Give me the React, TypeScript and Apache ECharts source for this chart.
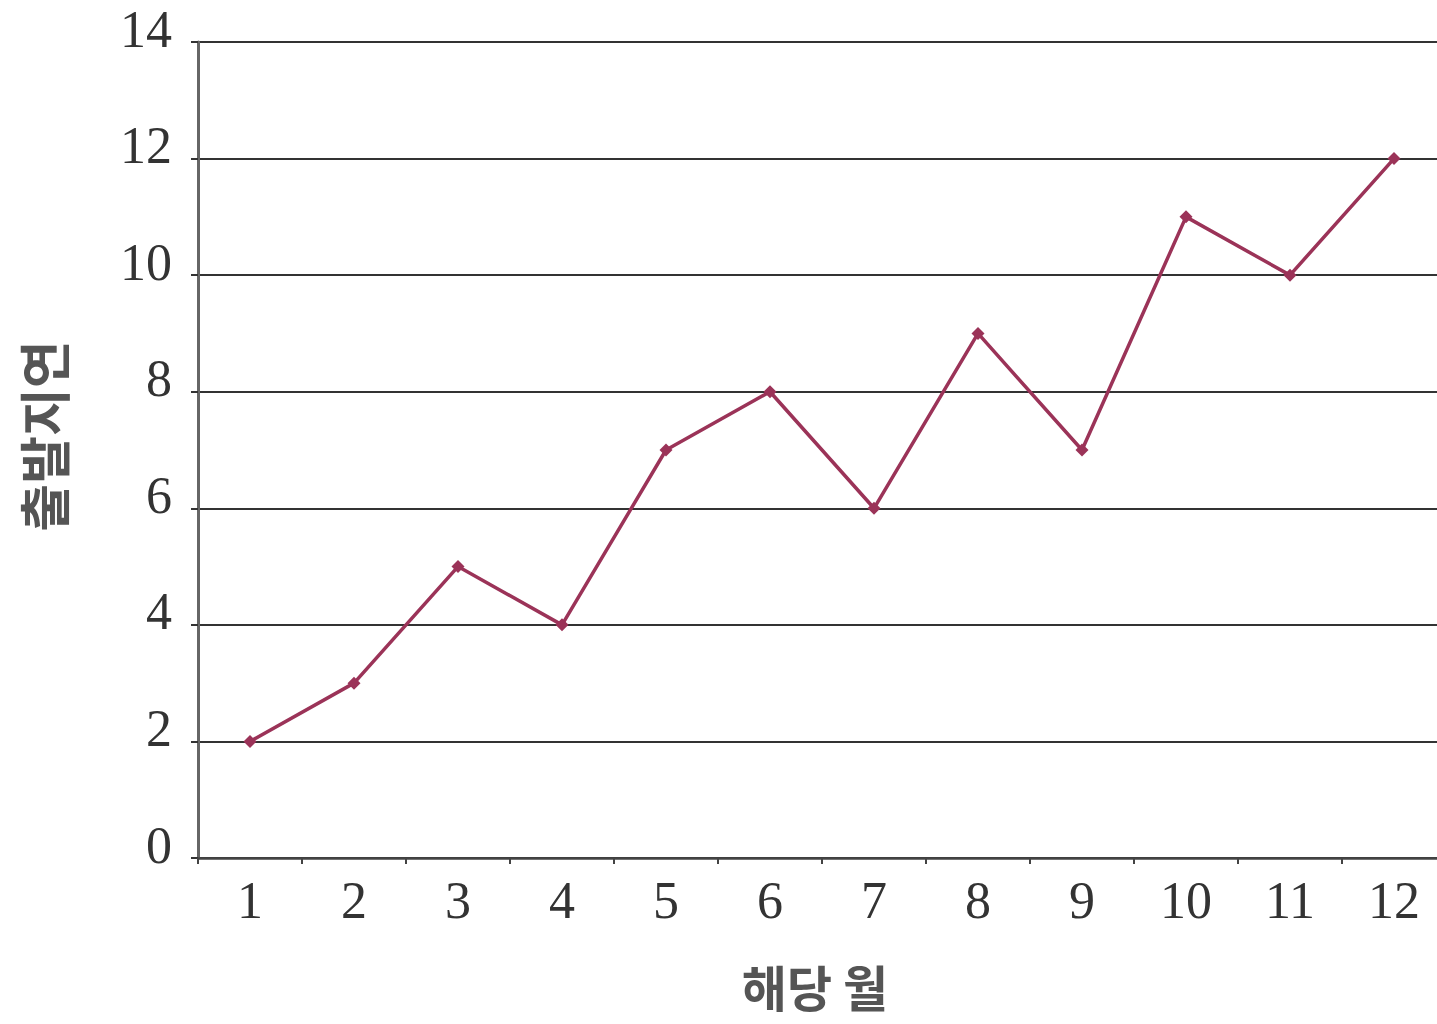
import React, { useEffect, useRef } from "react";
import * as echarts from "echarts";

const months = ["1", "2", "3", "4", "5", "6", "7", "8", "9", "10", "11", "12"];
const delays = [2, 3, 5, 4, 7, 8, 6, 9, 7, 11, 10, 12];
const xTitle = "해당 월";
const yTitle = "출발지연";

export default function App() {
  const ref = useRef<HTMLDivElement>(null);
  useEffect(() => {
    if (!ref.current) return;
    const chart = echarts.init(ref.current, null, { renderer: "svg" });
    chart.setOption({
      animation: false,
      backgroundColor: "#ffffff",
      grid: {
        left: 198,
        top: 42,
        height: 816,
        width: 1248,
        containLabel: false,
        outerBoundsMode: "none",
      },
      graphic: [
        {
          type: "text",
          x: 815,
          y: 985,
          style: {
            text: xTitle,
            x: 0,
            y: 0,
            align: "center",
            verticalAlign: "middle",
            fontFamily: "Noto Sans CJK KR",
            fontWeight: "bold",
            fontSize: 49,
            lineHeight: 50,
            fill: "#555555",
          },
        },
        {
          type: "text",
          x: 42,
          y: 436,
          rotation: Math.PI / 2,
          style: {
            text: yTitle,
            x: 0,
            y: 0,
            align: "center",
            verticalAlign: "middle",
            fontFamily: "Noto Sans CJK KR",
            fontWeight: "bold",
            fontSize: 52,
            lineHeight: 54,
            fill: "#555555",
          },
        },
      ],
      xAxis: {
        type: "category",
        data: months,
        boundaryGap: true,
        axisLine: { show: true, lineStyle: { color: "#444444", width: 2.5 } },
        axisTick: { show: true, length: 6, lineStyle: { color: "#444444", width: 2 } },
        axisLabel: {
          fontFamily: "Liberation Serif",
          fontSize: 52,
          color: "#333333",
          margin: 16,
        },
        splitLine: { show: false },
      },
      yAxis: {
        type: "value",
        min: 0,
        max: 14,
        interval: 2,
        axisLine: { show: true, lineStyle: { color: "#666666", width: 3 } },
        axisTick: { show: true, length: 7, lineStyle: { color: "#333333", width: 2 } },
        axisLabel: {
          fontFamily: "Liberation Serif",
          fontSize: 52,
          color: "#333333",
          margin: 26,
          verticalAlign: "bottom",
          lineHeight: 26,
        },
        splitLine: { show: true, lineStyle: { color: "#333333", width: 2 } },
      },
      series: [
        {
          type: "line",
          data: delays,
          symbol: "diamond",
          symbolSize: 13,
          itemStyle: { color: "#9b3358" },
          lineStyle: { color: "#9b3358", width: 3.5 },
        },
      ],
    });
    return () => chart.dispose();
  }, []);
  return (
    <div
      ref={ref}
      style={{ position: "absolute", left: 0, top: 0, width: 1437, height: 1024 }}
    />
  );
}
